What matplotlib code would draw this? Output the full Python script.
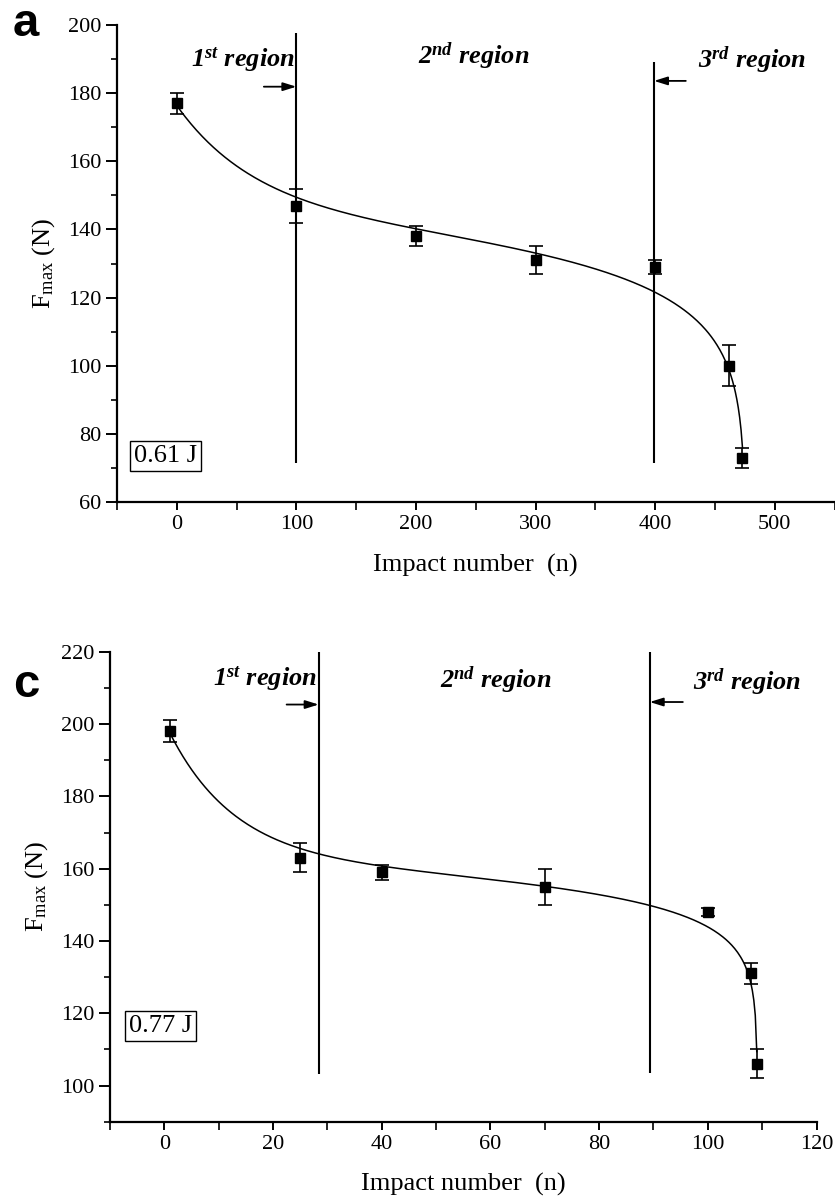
import numpy as np
import matplotlib
matplotlib.use("Agg")
import matplotlib.pyplot as plt
from matplotlib.ticker import MultipleLocator

plt.rcParams['font.family'] = ['Liberation Serif', 'DejaVu Serif']
plt.rcParams['mathtext.default'] = 'regular'

# panel a : 0.61 J
n_a = [0, 100, 200, 300, 400, 462, 473]
f_a = [177, 147, 138, 131, 129, 100, 73]
err_a = [3, 5, 3, 4, 2, 6, 3]
bounds_a = [100, 399]

# panel c : 0.77 J
n_c = [1, 25, 40, 70, 100, 108, 109]
f_c = [198, 163, 159, 155, 148, 131, 106]
err_c = [3, 4, 2, 5, 1, 3, 4]
bounds_c = [28.4, 89.3]


def fit_curve(x, y, tau, x0, xend):
    # least squares: a + c*exp(-x/tau) + d*ln(x0-x)
    x = np.asarray(x, float)
    y = np.asarray(y, float)
    A = np.column_stack([np.ones_like(x), np.exp(-x / tau), np.log(x0 - x)])
    coef = np.linalg.lstsq(A, y, rcond=None)[0]
    xs = np.linspace(x[0], xend, 400)
    B = np.column_stack([np.ones_like(xs), np.exp(-xs / tau), np.log(x0 - xs)])
    return xs, B @ coef


def draw_panel(ax, n, f, err, bounds, tau, x0, xend):
    xs, ys = fit_curve(n, f, tau, x0, xend)
    ax.plot(xs, ys, color='black', lw=1.1, zorder=2)
    ax.errorbar(n, f, yerr=err, fmt='s', color='black', ms=7, capsize=5,
                elinewidth=1.2, capthick=1.2, zorder=3)
    for s in ['top', 'right']:
        ax.spines[s].set_visible(False)
    for s in ['left', 'bottom']:
        ax.spines[s].set_linewidth(1.6)
    ax.tick_params(axis='both', which='major', labelsize=16, width=1.4, direction='out')
    ax.tick_params(axis='y', which='major', length=8)
    ax.tick_params(axis='y', which='minor', length=4, width=1.2)
    ax.tick_params(axis='x', which='major', length=6)
    ax.tick_params(axis='x', which='minor', length=6, width=1.2)
    ax.set_xlabel('Impact number  (n)', fontsize=19, labelpad=14)
    ax.set_ylabel('F$_{max}$ (N)', fontsize=19, labelpad=8)


fig = plt.figure(figsize=(8.35, 11.97), dpi=100)

# ---- panel a ----
ax1 = fig.add_axes([0.1401, 0.5806, 0.8594, 0.3985])
draw_panel(ax1, n_a, f_a, err_a, bounds_a, 65, 475.5, 473)
ax1.set_xlim(-50, 550)
ax1.set_ylim(60, 200)
ax1.xaxis.set_major_locator(MultipleLocator(100))
ax1.xaxis.set_minor_locator(MultipleLocator(50))
ax1.yaxis.set_major_locator(MultipleLocator(20))
ax1.yaxis.set_minor_locator(MultipleLocator(10))
ax1.vlines(bounds_a[0], 71.5, 197.6, color='black', lw=1.5)
ax1.vlines(bounds_a[1], 71.5, 189.2, color='black', lw=1.5)
arrow = dict(arrowstyle='-|>,head_length=0.8,head_width=0.25', color='black', lw=1.3,
             shrinkA=0, shrinkB=0)
ax1.annotate('', xy=(bounds_a[0], 181.9), xytext=(72.8, 181.9), arrowprops=arrow)
ax1.annotate('', xy=(bounds_a[1], 183.6), xytext=(425.6, 183.6), arrowprops=arrow)
reg = dict(fontsize=19, fontweight='bold', fontstyle='italic', va='baseline', ha='left')
ax1.text(11.7, 187.7, '1$^{st}$ region', **reg)
ax1.text(202, 188.8, '2$^{nd}$ region', **reg)
ax1.text(435.6, 187.4, '3$^{rd}$ region', **reg)
ax1.text(-36, 73.5, '0.61 J', fontsize=19, va='center', ha='left',
         bbox=dict(boxstyle='square,pad=0.15', fc='white', ec='black', lw=1.0))
fig.text(0.031, 0.98, 'a', family='Liberation Sans', fontweight='bold', fontsize=34,
         ha='center', va='center')

# ---- panel c ----
ax2 = fig.add_axes([0.1317, 0.0629, 0.8462, 0.3926])
draw_panel(ax2, n_c, f_c, err_c, bounds_c, 12, 109.1, 109)
ax2.set_xlim(-10, 120)
ax2.set_ylim(90, 220)
ax2.xaxis.set_major_locator(MultipleLocator(20))
ax2.xaxis.set_minor_locator(MultipleLocator(10))
ax2.yaxis.set_major_locator(MultipleLocator(20))
ax2.yaxis.set_minor_locator(MultipleLocator(10))
ax2.set_yticks([100, 120, 140, 160, 180, 200, 220])
ax2.vlines(bounds_c[0], 103.3, 220, color='black', lw=1.5)
ax2.vlines(bounds_c[1], 103.4, 220, color='black', lw=1.5)
ax2.annotate('', xy=(bounds_c[0], 205.4), xytext=(22.5, 205.4), arrowprops=arrow)
ax2.annotate('', xy=(bounds_c[1], 206.1), xytext=(95.4, 206.1), arrowprops=arrow)
ax2.text(8.9, 210.8, '1$^{st}$ region', **reg)
ax2.text(50.7, 210.2, '2$^{nd}$ region', **reg)
ax2.text(97.3, 209.4, '3$^{rd}$ region', **reg)
ax2.text(-6.5, 116.5, '0.77 J', fontsize=19, va='center', ha='left',
         bbox=dict(boxstyle='square,pad=0.15', fc='white', ec='black', lw=1.0))
fig.text(0.031, 0.428, 'c', family='Liberation Sans', fontweight='bold', fontsize=34,
         ha='center', va='center')

fig.savefig('out.png', dpi=100)
